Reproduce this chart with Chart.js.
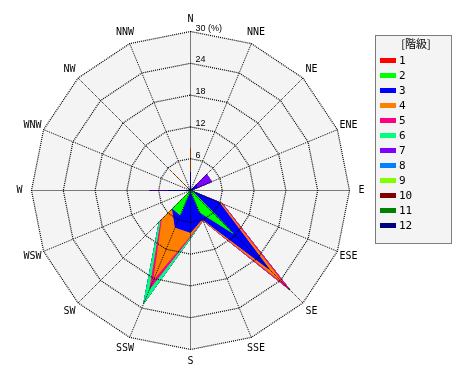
<!DOCTYPE html>
<html><head><meta charset="utf-8">
<script src="https://cdn.jsdelivr.net/npm/chart.js@4.4.0/dist/chart.umd.min.js"></script>
<style>html,body{margin:0;padding:0;background:#fff}</style>
</head><body>
<canvas id="c" width="470" height="380"></canvas>
<script>
// ---- data ----
const directions = ['N','NNE','NE','ENE','E','ESE','SE','SSE','S','SSW','SW','WSW','W','WNW','NW','NNW'];
const classLabels = ['1','2','3','4','5','6','7','8','9','10','11','12'];
const classColors = ['#ff0000','#00ff00','#0000ff','#ff8000','#ff0080','#00ff80','#8000ff','#0080ff','#80ff00','#800000','#008000','#000080'];
//              N   NNE  NE   ENE  E    ESE  SE    SSE  S    SSW   SW   WSW  W    WNW  NW   NNW
const class1  = [0,  0,   0,   0,   0,   0,   0,    0,   0,   0,    0,   0,   0,   0,   0,   0];
const class2  = [0,  0,   0,   0,   0,   0.4, 11.5, 4.4, 0,   5.0,  4.8, 0,   0,   0,   0,   0];
const class3  = [3.5,0,   1.5, 1.5, 0,   5.4, 9.5,  1.4, 7.9, 2.5,  0,   0,   4.3, 0,   0.5, 0];
const class4  = [4.5,0,   0,   0,   0,   0.4, 3.5,  0.2, 0.6, 10.5, 2.7, 0,   0,   0,   4.0, 0];
const class5  = [0,  0,   0,   0,   0,   0.3, 2.0,  0.1, 0.2, 2.0,  0.3, 0,   0,   0,   0,   0];
const class6  = [0,  0,   0,   0,   0,   0,   0,    0,   0.3, 3.0,  0.5, 0,   0,   0,   0,   0];
const class7  = [0,  0,   2.8, 2.8, 0,   0,   0,    0,   0,   0,    0,   0,   3.4, 0,   0,   0];
const class8  = [0,  0,   0,   0,   0,   0,   0,    0,   0,   0,    0,   0,   0,   0,   0,   0];
const class9  = [0,  0,   0,   0,   0,   0,   0,    0,   0,   0,    0,   0,   0,   0,   0,   0];
const class10 = [0,  0,   0,   0,   0,   0,   0,    0,   0,   0,    0,   0,   0,   0,   0,   0];
const class11 = [0,  0,   0,   0,   0,   0,   0,    0,   0,   0,    0,   0,   0,   0,   0,   0];
const class12 = [0,  0,   0,   0,   0,   0,   0,    0,   0,   0,    0,   0,   0,   0,   0,   0];
const classValues = [class1,class2,class3,class4,class5,class6,class7,class8,class9,class10,class11,class12];
const tickValues = [6, 12, 18, 24, 30];
const tickLabels = ['6', '12', '18', '24', '30 (%)'];
const legendTitle = '[階級]';

// stacked (cumulative) rings built from the class arrays
const running = directions.map(() => 0);
const datasets = classValues.map((vals, k) => {
  vals.forEach((v, i) => { running[i] += v; });
  return {
    label: classLabels[k],
    data: running.slice(),
    backgroundColor: classColors[k],
    borderColor: classColors[k],
    borderWidth: 1,
    pointRadius: 0,
    fill: 'origin',
    tension: 0
  };
});

const MONO = '"DejaVu Sans Mono", "Liberation Mono", monospace';

const decor = {
  id: 'decor',
  beforeDatasetsDraw(chart) {
    const s = chart.scales.r, ctx = chart.ctx;
    ctx.save();
    ctx.fillStyle = '#f4f4f4';
    ctx.beginPath();
    for (let i = 0; i < directions.length; i++) {
      const p = s.getPointPosition(i, s.drawingArea);
      if (i === 0) ctx.moveTo(p.x, p.y); else ctx.lineTo(p.x, p.y);
    }
    ctx.closePath();
    ctx.fill();
    ctx.restore();
  },
  afterDraw(chart) {
    const s = chart.scales.r, ctx = chart.ctx;
    ctx.save();
    // direction labels
    ctx.fillStyle = '#000';
    ctx.font = '10px ' + MONO;
    ctx.textAlign = 'center';
    ctx.textBaseline = 'middle';
    directions.forEach((d, i) => {
      const p = s.getPointPosition(i, s.drawingArea + 12);
      ctx.fillText(d, p.x, p.y);
    });
    // radial tick labels
    ctx.font = '9px "Liberation Sans", sans-serif';
    ctx.textAlign = 'left';
    ctx.textBaseline = 'alphabetic';
    tickValues.forEach((v, i) => {
      const r = s.getDistanceFromCenterForValue(v);
      ctx.fillText(tickLabels[i], s.xCenter + 5, s.yCenter - r - 1);
    });
    // legend box
    const lx = 375, ly = 35, lw = 76, lh = 208;
    ctx.fillStyle = '#f4f4f4';
    ctx.fillRect(lx, ly, lw, lh);
    ctx.strokeStyle = '#000';
    ctx.lineWidth = 1;
    ctx.setLineDash([1, 1]);
    ctx.strokeRect(lx + 0.5, ly + 0.5, lw, lh);
    ctx.setLineDash([]);
    ctx.fillStyle = '#000';
    ctx.font = '11px "Noto Sans CJK JP", sans-serif';
    ctx.textAlign = 'center';
    ctx.textBaseline = 'middle';
    ctx.fillText(legendTitle, lx + 41, ly + 9);
    ctx.font = '11px ' + MONO;
    ctx.textAlign = 'left';
    chart.data.datasets.forEach((ds, k) => {
      const y = ly + 25 + k * 15;
      ctx.fillStyle = ds.backgroundColor;
      ctx.fillRect(lx + 5, y - 2, 16, 5);
      ctx.fillStyle = '#000';
      ctx.fillText(ds.label, lx + 24, y + 1);
    });
    ctx.restore();
  }
};

new Chart(document.getElementById('c'), {
  type: 'radar',
  data: { labels: directions, datasets },
  options: {
    responsive: false,
    animation: false,
    devicePixelRatio: 1,
    layout: { padding: { left: 31, top: 31, right: 121, bottom: 31 } },
    elements: { line: { tension: 0 } },
    plugins: { legend: { display: false }, tooltip: { enabled: false } },
    scales: {
      r: {
        min: 0, max: 30,
        startAngle: 0,
        afterFit(s) { s.xCenter += 0.5; s.yCenter += 0.5; },
        ticks: { display: false, stepSize: 6 },
        pointLabels: { display: false },
        grid: { color: '#000', lineWidth: 1.2, z: 1 },
        border: { dash: [1, 1] },
        angleLines: { color: '#000', lineWidth: 1, borderDash: [1, 1] }
      }
    }
  },
  plugins: [decor]
});
</script>
</body></html>
